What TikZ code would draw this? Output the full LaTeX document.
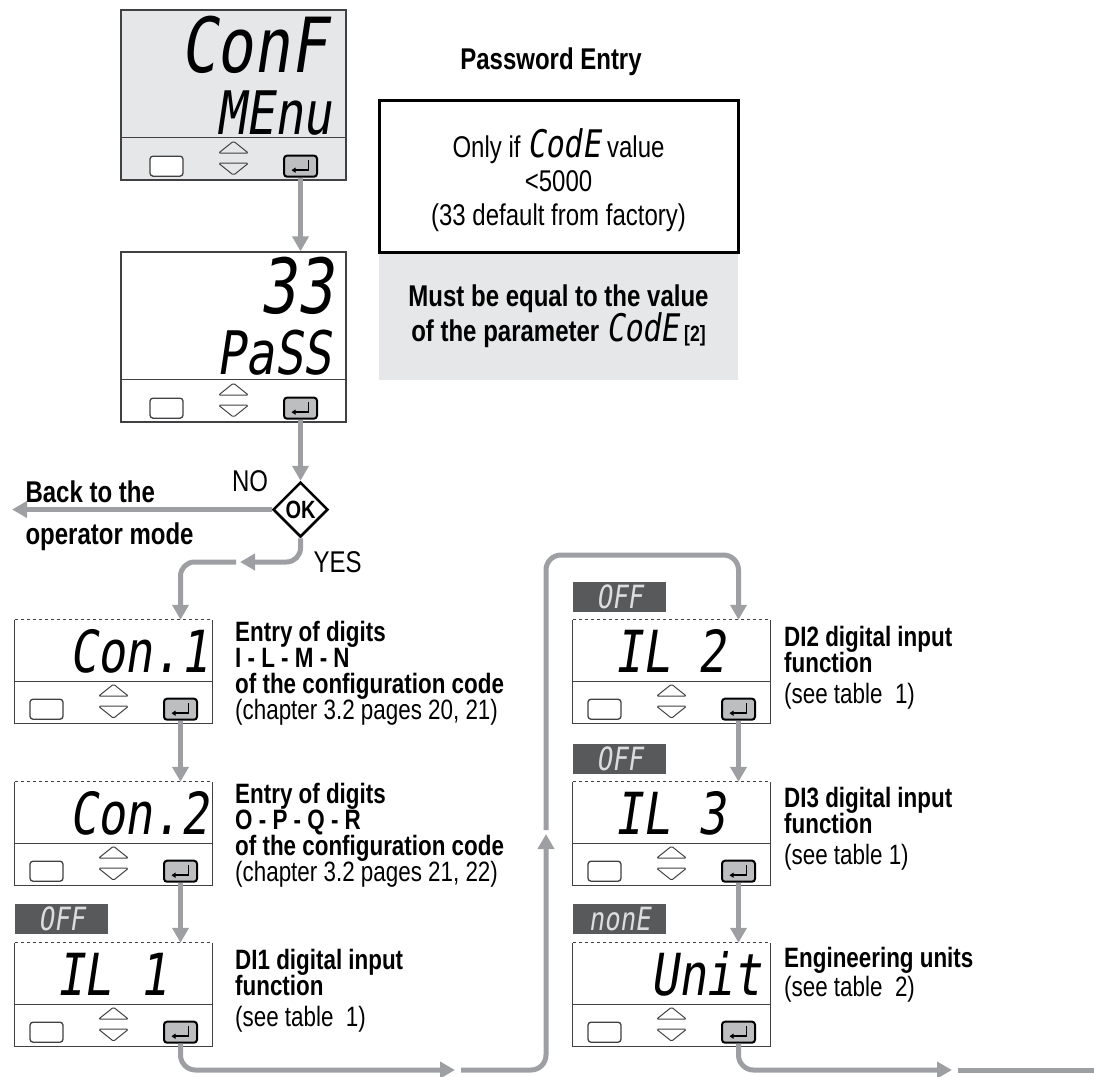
\documentclass[tikz,border=0pt]{standalone}
\usepackage{fontspec}
\setmainfont{Liberation Sans}[FakeStretch=0.8]
\newfontfamily\segfont{DejaVu Sans Mono}[FakeSlant=0.15,FakeStretch=0.8]
\usetikzlibrary{arrows.meta,shapes.geometric}

\definecolor{flowgray}{HTML}{9D9FA2}
\definecolor{panelgray}{HTML}{E6E7E8}
\definecolor{tagdark}{HTML}{58595B}
\definecolor{tagtext}{HTML}{DCDDDE}
\definecolor{keygray}{HTML}{BCBEC0}
\definecolor{rimgray}{HTML}{414042}

\newcommand{\segsize}[1]{\segfont\fontsize{#1}{#1}\selectfont}
\newcommand{\txtsize}[2]{\fontsize{#1}{#2}\selectfont\lineskiplimit=-8pt}

\begin{document}
\begin{tikzpicture}[
  x=1pt, y=-1pt,
  flow/.style={draw=flowgray, line width=5pt, -{Triangle[length=15pt,width=16pt]}},
  flowline/.style={draw=flowgray, line width=5pt},
  rim/.style={draw=rimgray, line width=1.3pt},
  bigbox/.style={rim, inner sep=0pt, minimum width=225pt, minimum height=170pt},
  smallbox/.style={inner sep=0pt, minimum width=197pt, minimum height=103pt},
  segtxt/.style={anchor=east, inner sep=0pt},
  tag/.style={fill=tagdark, text=tagtext, inner sep=0pt, minimum width=93pt, minimum height=30pt, font={\segsize{32}}},
  side/.style={anchor=north west, inner sep=0pt, align=left, font={\txtsize{28}{26}}},
  keypad/.pic={
    \node[rim, fill=white, rounded corners=3pt, inner sep=0pt, minimum width=33pt, minimum height=20pt] (-btn) at (-67,7) {};
    \draw[rim, line width=1pt, rounded corners=1.5pt] (-15,-6) -- (0,-18) -- (15,-6) -- cycle;
    \draw[rim, line width=1pt, rounded corners=1.5pt] (-15,4) -- (0,16) -- (15,4) -- cycle;
    \node[draw=black, line width=2pt, fill=keygray, rounded corners=3pt, inner sep=0pt, minimum width=33pt, minimum height=21pt] (-enter) at (67,7) {};
    \draw[line width=1.5pt, -{Triangle[length=4pt,width=5pt]}] (75,1) |- (58,11);
  }
]
\useasboundingbox (0,0) rectangle (1094,1076);

% configuration menu and password displays
\node[bigbox, fill=panelgray] (conf) at (233.5,95) {};
\draw[rim] ([yshift=43pt]conf.south west) -- ([yshift=43pt]conf.south east);
\pic (kconf) at ([yshift=21.5pt]conf.south) {keypad};
\node[segtxt, font={\segsize{76}}] (conf-top) at (327,45) {ConF};
\node[segtxt, font={\segsize{60}}] (conf-bot) at (332,113) {MEnu};

\node[bigbox] (pass) at (233.5,337) {};
\draw[rim] ([yshift=43pt]pass.south west) -- ([yshift=43pt]pass.south east);
\pic (kpass) at ([yshift=21.5pt]pass.south) {keypad};
\node[segtxt, font={\segsize{76}}] (pass-top) at (333,286) {33};
\node[segtxt, font={\segsize{60}}] (pass-bot) at (332,353) {PaSS};

% password notes
\node[font={\bfseries\txtsize{30}{30}}] (pw-title) at (551,62) {Password Entry};
\node[fill=panelgray, inner sep=0pt, minimum width=359pt, minimum height=128pt] (pw-note) at (558.5,316) {};
\node[draw=black, fill=white, line width=3pt, inner sep=0pt, minimum width=359pt, minimum height=152pt] (pw-box) at (558.5,176) {};
\node[align=center, font={\txtsize{30}{34}}] (pw-rule) at (558.5,180)
  {Only if {\segsize{38}CodE} value\\<5000\\(33 default from factory)};
\node[align=center, font={\bfseries\txtsize{30}{35}}] (pw-hint) at (558.5,316)
  {Must be equal to the value\\of the parameter {\mdseries\segsize{38}CodE}\,{\txtsize{22}{22}[2]}};

% decision
\node[diamond, draw=black, line width=2.5pt, inner sep=0pt, minimum width=55pt, minimum height=55pt, font={\bfseries\txtsize{25}{25}}] (ok) at (300.5,509.5) {OK};
\node[anchor=base, font={\txtsize{30}{30}}] (no) at (250,491) {NO};
\node[anchor=base west, font={\txtsize{30}{30}}] (yes) at (310,572) {YES};
\node[anchor=base west, font={\bfseries\txtsize{30}{30}}] (back1) at (22,502) {Back to the};
\node[anchor=base west, font={\bfseries\txtsize{30}{30}}] (back2) at (22,544) {operator mode};

% parameter displays
\foreach \b/\x/\y in {con1/113.5/671.5, con2/113.5/833.5, il1/113.5/994.5,
                      il2/671.5/671.5, il3/671.5/833.5, unit/671.5/994.5}{
  \node[smallbox] (\b) at (\x,\y) {};
  \draw[rim] (\b.north west) |- (\b.south east) -- (\b.north east);
  \draw[rim, line width=1pt, dash pattern=on 3.5pt off 2.5pt] (\b.north west) -- (\b.north east);
  \draw[rim] ([yshift=42pt]\b.south west) -- ([yshift=42pt]\b.south east);
  \pic (k\b) at ([yshift=21pt]\b.south) {keypad};
}
\node[segtxt, font={\segsize{58}}] (con1-seg) at (209,651) {Con.1};
\node[segtxt, font={\segsize{58}}] (con2-seg) at (209,813) {Con.2};
\node[segtxt, font={\segsize{58}}] (il1-seg) at (168,974) {IL 1};
\node[segtxt, font={\segsize{58}}] (il2-seg) at (726,651) {IL 2};
\node[segtxt, font={\segsize{58}}] (il3-seg) at (726,813) {IL 3};
\node[segtxt, font={\segsize{58}}] (unit-seg) at (762,974) {Unit};

\node[tag] (il1-tag) at (61.5,919) {OFF};
\node[tag] (il2-tag) at (619.5,597) {OFF};
\node[tag] (il3-tag) at (619.5,759) {OFF};
\node[tag] (unit-tag) at (619.5,919) {nonE};

\node[side] (con1-txt) at (235,621) {\textbf{Entry of digits}\\\textbf{I - L - M - N}\\\textbf{of the configuration code}\\(chapter 3.2 pages 20, 21)};
\node[side] (con2-txt) at (235,783) {\textbf{Entry of digits}\\\textbf{O - P - Q - R}\\\textbf{of the configuration code}\\(chapter 3.2 pages 21, 22)};
\node[side] (il1-txt) at (235,949) {\textbf{DI1 digital input}\\\textbf{function}\\[5pt](see table~ 1)};
\node[side] (il2-txt) at (784,626) {\textbf{DI2 digital input}\\\textbf{function}\\[5pt](see table~ 1)};
\node[side] (il3-txt) at (784,787) {\textbf{DI3 digital input}\\\textbf{function}\\[5pt](see table 1)};
\node[side] (unit-txt) at (784,947) {\textbf{Engineering units}\\[3pt](see table~ 2)};

% connectors
\draw[flow] (kconf-enter.south) -- (kconf-enter.south |- pass.north);
\draw[flow] (kpass-enter.south) -- (ok.north);
\coordinate (back-end) at (12,509.5);
\draw[flow] (ok.west) -- (back-end);

\coordinate (yes-a) at (240,562);
\coordinate (yes-b) at (236,562);
\draw[flow, rounded corners=14pt] (ok.south) |- (yes-a);
\draw[flow, rounded corners=14pt] (yes-b) -| (kcon1-enter |- con1.north);

\draw[flow] (kcon1-enter.south) -- (kcon1-enter |- con2.north);
\draw[flow] (kcon2-enter.south) -- (kcon2-enter |- il1.north);

\coordinate (loop-a) at (455,1070);
\coordinate (loop-b) at (461,1070);
\coordinate (loop-c) at (546,834);
\coordinate (loop-d) at (546,830);
\coordinate (loop-e) at (640,555);
\draw[flow, rounded corners=15pt] (kil1-enter.south) |- (loop-a);
\draw[flow, rounded corners=15pt] (loop-b) -| (loop-c);
\draw[flow, rounded corners=15pt] (loop-d) |- (loop-e) -| (kil2-enter |- il2.north);

\draw[flow] (kil2-enter.south) -- (kil2-enter |- il3.north);
\draw[flow] (kil3-enter.south) -- (kil3-enter |- unit.north);

\coordinate (exit-a) at (952,1070);
\coordinate (exit-b) at (958,1070);
\coordinate (exit-c) at (1100,1070);
\draw[flow, rounded corners=15pt] (kunit-enter.south) |- (exit-a);
\draw[flowline] (exit-b) -- (exit-c);
\end{tikzpicture}
\end{document}
